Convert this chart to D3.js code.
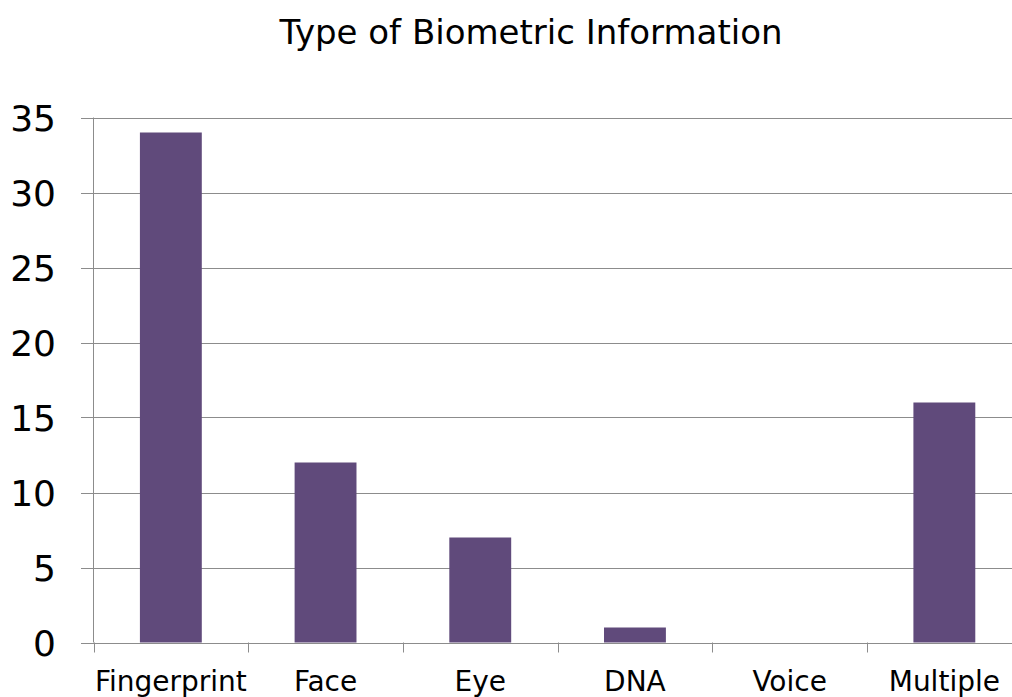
<!DOCTYPE html>
<html>
<head>
<meta charset="utf-8">
<script src="https://d3js.org/d3.v7.min.js"></script>
<style>
  body { margin: 0; background: #fff; }
  svg { display: block; }
  text { font-family: "DejaVu Sans", sans-serif; fill: #000; }
</style>
</head>
<body>
<div id="chart"></div>
<script>
var categories = ['Fingerprint', 'Face', 'Eye', 'DNA', 'Voice', 'Multiple'];
var counts = [34, 12, 7, 1, 0, 16];
var yTicks = [0, 5, 10, 15, 20, 25, 30, 35];

var width = 1012, height = 697;
var plotLeft = 93.5, plotRight = 1021.7, plotTop = 117.5, plotBottom = 642.5;

var svg = d3.select('#chart').append('svg')
    .attr('width', width)
    .attr('height', height);

var x = d3.scaleBand()
    .domain(categories)
    .range([plotLeft, plotRight])
    .paddingInner(0.6)
    .paddingOuter(0.3);

var y = d3.scaleLinear()
    .domain([0, 35])
    .range([plotBottom, plotTop]);

// gridlines
svg.selectAll('line.grid')
    .data(yTicks)
    .enter().append('line')
    .attr('class', 'grid')
    .attr('x1', 81)
    .attr('x2', plotRight)
    .attr('y1', function(d) { return Math.round(y(d)) + 0.5; })
    .attr('y2', function(d) { return Math.round(y(d)) + 0.5; })
    .attr('stroke', '#8c8c8c')
    .attr('stroke-width', 1);

// y axis line
svg.append('line')
    .attr('x1', plotLeft).attr('x2', plotLeft)
    .attr('y1', plotTop).attr('y2', plotBottom)
    .attr('stroke', '#8c8c8c');

// category tick marks
var tickPos = d3.range(categories.length + 1).map(function(i) { return plotLeft + i * x.step(); });
svg.selectAll('line.xtick')
    .data(tickPos)
    .enter().append('line')
    .attr('class', 'xtick')
    .attr('x1', function(d) { return Math.round(d) + 0.5; })
    .attr('x2', function(d) { return Math.round(d) + 0.5; })
    .attr('y1', plotBottom)
    .attr('y2', plotBottom + 10)
    .attr('stroke', '#8c8c8c');

// bars
svg.selectAll('rect.bar')
    .data(categories)
    .enter().append('rect')
    .attr('class', 'bar')
    .attr('x', function(d) { return x(d); })
    .attr('width', x.bandwidth())
    .attr('y', function(d, i) { return y(counts[i]); })
    .attr('height', function(d, i) { return y(0) - y(counts[i]); })
    .attr('fill', '#604a7b');

// y labels
svg.selectAll('text.ylab')
    .data(yTicks)
    .enter().append('text')
    .attr('class', 'ylab')
    .attr('x', 56)
    .attr('y', function(d) { return y(d) + 13; })
    .attr('text-anchor', 'end')
    .style('font-size', '36px')
    .text(function(d) { return d; });

// x labels
svg.selectAll('text.xlab')
    .data(categories)
    .enter().append('text')
    .attr('class', 'xlab')
    .attr('x', function(d) { return x(d) + x.bandwidth() / 2; })
    .attr('y', 691)
    .attr('text-anchor', 'middle')
    .style('font-size', '28px')
    .text(function(d) { return d; });

// title
svg.append('text')
    .attr('x', 531)
    .attr('y', 44)
    .attr('text-anchor', 'middle')
    .style('font-size', '34px')
    .text('Type of Biometric Information');
</script>
</body>
</html>
